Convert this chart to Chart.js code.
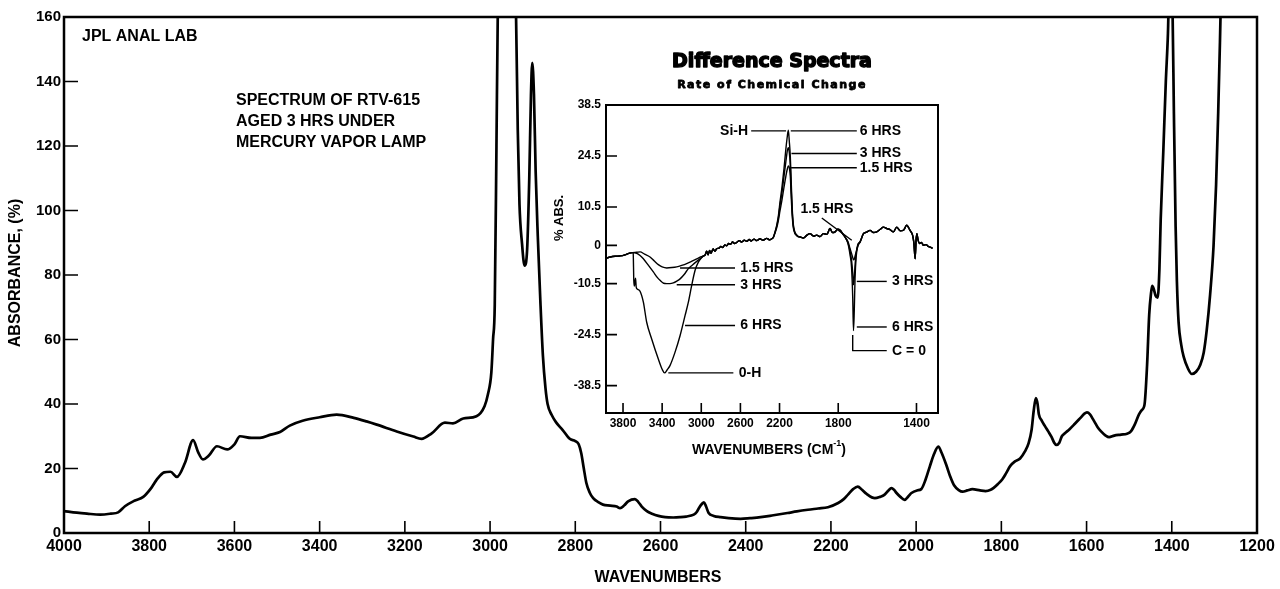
<!DOCTYPE html>
<html>
<head>
<meta charset="utf-8">
<script src="https://cdn.jsdelivr.net/npm/chart.js@4.4.1/dist/chart.umd.min.js"></script>
<style>
  html, body { margin: 0; padding: 0; background: #fff; }
  #wrap { position: relative; width: 1280px; height: 589px; }
  #main { position: absolute; left: 0; top: 0; }
  #inset { position: absolute; left: 540px; top: 40px; }
</style>
</head>
<body>
<div id="wrap">
  <canvas id="main" width="1280" height="589"></canvas>
  <canvas id="inset" width="420" height="420"></canvas>
</div>
<script>
// main spectrum (values above 160 run off the top)
const mainWave = [4000, 3970, 3946, 3915, 3890, 3873, 3857, 3835, 3814, 3795, 3782, 3765, 3750, 3735, 3716, 3697, 3685, 3674, 3660, 3641, 3617, 3600, 3587, 3560, 3540, 3515, 3493, 3470, 3440, 3400, 3360, 3320, 3290, 3266, 3219, 3180, 3161, 3137, 3106, 3087, 3063, 3032, 3013, 3005, 2997, 2993, 2989, 2985, 2982, 2975, 2960, 2945, 2939, 2935, 2931, 2925, 2919, 2913, 2908, 2904, 2901, 2897, 2893, 2888, 2882, 2876, 2870, 2865, 2855, 2845, 2830, 2813, 2800, 2792, 2786, 2780, 2774, 2766, 2758, 2745, 2735, 2718, 2703, 2695, 2685, 2676, 2660, 2652, 2644, 2632, 2620, 2605, 2589, 2570, 2554, 2540, 2522, 2515, 2510, 2503, 2498, 2493, 2487, 2475, 2459, 2440, 2412, 2390, 2365, 2335, 2302, 2280, 2254, 2230, 2207, 2183, 2170, 2160, 2148, 2137, 2127, 2117, 2097, 2085, 2074, 2065, 2058, 2052, 2046, 2037, 2027, 2018, 2011, 1998, 1988, 1978, 1968, 1958, 1948, 1940, 1929, 1920, 1911, 1900, 1891, 1880, 1868, 1850, 1837, 1825, 1818, 1808, 1798, 1789, 1779, 1768, 1756, 1745, 1736, 1729, 1724, 1719, 1715, 1712, 1705, 1698, 1690, 1682, 1676, 1671, 1664, 1658, 1651, 1640, 1628, 1615, 1605, 1599, 1592, 1585, 1581, 1574, 1566, 1556, 1547, 1535, 1519, 1505, 1496, 1487, 1477, 1470, 1464, 1458, 1453, 1449, 1446, 1442, 1438, 1433, 1429, 1426, 1420, 1414, 1409, 1405, 1401, 1398, 1395, 1391, 1388, 1384, 1378, 1372, 1362, 1353, 1343, 1333, 1325, 1318, 1310, 1302, 1296, 1291, 1287, 1284, 1280];
const mainAbs = [6.8, 6.3, 6.0, 5.7, 6.0, 6.4, 8.3, 10.0, 11.2, 14.0, 16.6, 18.8, 19.0, 17.4, 21.8, 28.8, 25.0, 22.8, 24.0, 26.9, 25.9, 27.5, 30.0, 29.5, 29.5, 30.5, 31.3, 33.3, 34.8, 35.9, 36.7, 35.7, 34.6, 33.6, 31.5, 29.9, 29.2, 30.9, 34.2, 34.0, 35.5, 36.2, 39.3, 43.0, 49.8, 60.0, 70.8, 120, 160, 190, 200, 185, 160, 125, 102, 89.7, 82.9, 88.0, 110, 136, 145.8, 136, 112, 92.0, 72.0, 55.0, 45.0, 40.0, 36.5, 34.3, 32.0, 29.2, 28.5, 27.5, 24.7, 20.0, 15.5, 12.5, 10.8, 9.5, 8.8, 8.5, 8.2, 7.7, 8.6, 9.8, 10.5, 9.6, 8.2, 6.8, 6.0, 5.3, 4.9, 4.8, 4.9, 5.1, 5.7, 6.5, 7.7, 9.0, 9.5, 8.2, 6.2, 5.3, 4.9, 4.6, 4.4, 4.6, 4.9, 5.5, 6.2, 6.7, 7.2, 7.6, 8.0, 9.3, 10.5, 11.9, 13.6, 14.4, 13.4, 12.2, 10.8, 11.2, 11.9, 13.2, 13.9, 13.4, 12.4, 11.2, 10.3, 11.4, 12.4, 13.2, 13.6, 16.5, 20.6, 24.5, 26.8, 24.8, 21.0, 17.5, 14.8, 13.3, 12.8, 13.2, 13.6, 13.2, 13.0, 13.4, 14.0, 15.2, 16.6, 18.5, 20.8, 22.2, 23.1, 25.2, 27.9, 32.0, 38.0, 41.8, 40.0, 36.8, 34.8, 33.2, 31.5, 29.7, 28.0, 27.3, 28.0, 30.0, 30.9, 32.2, 33.8, 35.6, 37.0, 37.4, 36.8, 35.3, 34.4, 32.8, 31.5, 30.3, 29.7, 30.2, 30.5, 30.8, 31.5, 33.6, 36.8, 38.2, 39.8, 52.0, 67.7, 74.0, 76.6, 75.5, 73.6, 73.0, 82.0, 97.3, 118, 140, 155, 175, 175, 160, 130, 95.0, 78.0, 65.3, 58.5, 54.6, 51.0, 49.3, 50.0, 52.2, 56.0, 62.9, 74.0, 89.0, 108, 130.6, 152, 170, 190];

// inset: difference spectra (1.5, 3 and 6 hrs), pieces shared where curves coincide
const insetXTicks = [3800, 3400, 3000, 2600, 2200, 1800, 1400];
const insetYTicks = [38.5, 24.5, 10.5, 0, -10.5, -24.5, -38.5];

const baseW = [3970, 3930, 3880, 3830, 3780, 3740, 3705];
const baseAbs = [-3.5, -3.2, -3.0, -2.9, -2.6, -2.2, -2.0];

const dip6W = [3696, 3690, 3684, 3678, 3672, 3665, 3655, 3626, 3592, 3558, 3507, 3439, 3400, 3375, 3350, 3320, 3268, 3217, 3166, 3132, 3098, 3064, 3030, 3000, 2979];
const dip6Abs = [-2.2, -9.5, -11.2, -10.0, -9.0, -11.5, -12.0, -12.6, -15.6, -21.1, -25.7, -31.2, -34.0, -35.0, -34.2, -33.0, -29.3, -24.8, -19.3, -15.6, -11.0, -6.9, -4.6, -3.5, -2.9];
const dip3W = [3660, 3626, 3592, 3540, 3490, 3450, 3422, 3385, 3353, 3320, 3286, 3250, 3217, 3175, 3132, 3090, 3046, 3000, 2979];
const dip3Abs = [-2.2, -2.8, -3.7, -5.5, -7.3, -8.8, -9.6, -10.4, -10.5, -10.5, -10.3, -9.8, -9.2, -8.0, -6.4, -5.4, -4.4, -3.4, -3.0];
const dip15W = [3660, 3626, 3580, 3524, 3480, 3439, 3400, 3353, 3300, 3251, 3200, 3149, 3100, 3046, 3000, 2979];
const dip15Abs = [-1.9, -1.8, -2.4, -3.2, -4.3, -5.3, -5.9, -6.2, -6.1, -5.9, -5.5, -5.0, -4.4, -3.7, -3.1, -2.9];

const midW = [2960, 2945, 2930, 2915, 2900, 2880, 2860, 2842, 2820, 2800, 2780, 2760, 2740, 2720, 2700, 2680, 2660, 2637, 2610, 2590, 2560, 2535, 2510, 2490, 2460, 2433, 2400, 2370, 2331, 2300, 2280, 2263];
const midAbs = [-2.6, -1.6, -2.6, -1.4, -2.2, -1.0, -1.6, -0.9, -0.8, -0.3, -0.6, 0.1, -0.1, 0.5, 0.3, 0.9, 0.5, 0.8, 1.3, 0.9, 1.4, 1.1, 1.6, 1.2, 1.7, 1.3, 1.8, 1.4, 1.9, 1.5, 1.8, 2.2];

const siHW = [2246, 2229, 2212, 2195, 2175, 2154, 2135, 2120, 2110, 2100, 2090, 2080, 2070, 2060, 2045, 2030, 2010, 1995];
const siH6Abs = [3.7, 5.5, 8.0, 11.9, 16.0, 21.1, 26.5, 30.0, 31.6, 28.5, 24.5, 17.0, 10.0, 6.0, 3.8, 3.0, 2.5, 2.3];
const siH3Abs = [3.6, 5.2, 7.5, 11.0, 14.5, 19.0, 23.0, 26.0, 26.8, 25.5, 22.0, 15.0, 9.0, 5.5, 3.6, 2.9, 2.4, 2.3];
const siH15Abs = [3.4, 4.8, 6.8, 9.5, 12.5, 16.0, 19.0, 21.0, 21.8, 21.3, 19.0, 13.0, 8.0, 5.0, 3.4, 2.8, 2.4, 2.3];

const postSiW = [1978, 1960, 1944, 1925, 1910, 1893, 1876, 1858, 1842, 1830, 1816, 1803, 1790, 1775, 1762];
const postSiAbs = [2.0, 2.8, 3.2, 2.5, 2.8, 2.4, 3.2, 3.0, 4.6, 3.5, 3.7, 4.4, 4.1, 3.0, 2.0];

const coW = [1750, 1740, 1732, 1726, 1722, 1718, 1714, 1708, 1700, 1688];
const co6Abs = [0.5, -2.5, -6.0, -14.0, -23.4, -18.0, -9.0, -3.0, 0.0, 0.9];
const co3Abs = [0.6, -1.5, -4.0, -7.5, -10.8, -9.0, -5.5, -2.0, 0.2, 1.0];
const co15Abs = [1.0, -0.8, -2.2, -3.3, -4.0, -3.8, -3.0, -1.8, -0.3, 1.0];

const tailW = [1671, 1655, 1637, 1620, 1603, 1585, 1569, 1552, 1535, 1518, 1501, 1484, 1467, 1450, 1433, 1420, 1413, 1407, 1402, 1398, 1392, 1385, 1375, 1364, 1350, 1340, 1330, 1318];
const tailAbs = [3.2, 3.6, 4.1, 3.5, 3.7, 4.4, 5.0, 4.6, 4.3, 3.7, 5.0, 4.0, 4.1, 5.5, 4.1, 2.8, 0.5, -3.7, 1.5, 3.2, 1.5, 0.5, 0.8, 0.0, 0.2, -0.3, -0.5, -0.8];

// inset labels: [text, text wavenumber, text value, align, leader line points]
const insetNotes = [
  ['Si-H', 2501, 31.4, 'right', [[2490, 31.4], [2133, 31.4]]],
  ['6 HRS', 1700, 31.4, 'left', [[2085, 31.4], [1705, 31.4]]],
  ['3 HRS', 1700, 25.2, 'left', [[2078, 25.2], [1705, 25.2]]],
  ['1.5 HRS', 1700, 21.3, 'left', [[2082, 21.3], [1705, 21.3]]],
  ['1.5 HRS', 2007, 9.9, 'left', [[1884, 7.5], [1731, 1.4]]],
  ['1.5 HRS', 2621, -6.2, 'left', [[3217, -6.2], [2655, -6.2]]],
  ['3 HRS', 2621, -10.8, 'left', [[3251, -10.8], [2655, -10.8]]],
  ['6 HRS', 2621, -22, 'left', [[3166, -22], [2655, -22]]],
  ['0-H', 2638, -35, 'left', [[3337, -35], [2672, -35]]],
  ['3 HRS', 1535, -9.9, 'left', [[1705, -9.9], [1552, -9.9]]],
  ['6 HRS', 1535, -22.4, 'left', [[1705, -22.4], [1552, -22.4]]],
  ['C = 0', 1535, -28.9, 'left', [[1726, -24.6], [1726, -28.9], [1552, -28.9]]]
];

// the inset axis is expanded 2x below 2000 cm-1
function toAxis(w) { return w >= 2000 ? 4000 - w : 2000 + (2000 - w) * 2; }
function fromAxis(t) { return t <= 2000 ? 4000 - t : 2000 - (t - 2000) / 2; }

function series(parts) {
  const pts = [];
  parts.forEach(([ws, vs]) => ws.forEach((w, i) => pts.push({ x: toAxis(w), y: vs[i] })));
  return pts;
}

const FONT = "'Liberation Sans', Arial, sans-serif";
Chart.defaults.font.family = FONT;
Chart.defaults.color = '#000';

function drawFrame(chart, lw, xLen, yLen) {
  const { ctx, chartArea: a, scales: { x, y } } = chart;
  ctx.save();
  ctx.strokeStyle = '#000';
  ctx.lineWidth = lw;
  ctx.strokeRect(a.left, a.top, a.right - a.left, a.bottom - a.top);
  ctx.lineWidth = 1.6;
  ctx.beginPath();
  x.ticks.forEach(t => {
    const p = x.getPixelForValue(t.value);
    if (p <= a.left + 2 || p >= a.right - 2) return;
    ctx.moveTo(p, a.bottom); ctx.lineTo(p, a.bottom - xLen);
  });
  y.ticks.forEach(t => {
    const p = y.getPixelForValue(t.value);
    if (p <= a.top + 2 || p >= a.bottom - 2) return;
    ctx.moveTo(a.left, p); ctx.lineTo(a.left + yLen, p);
  });
  ctx.stroke();
  ctx.restore();
}

function text(ctx, s, x, y, font, align, heavy) {
  ctx.font = font;
  ctx.textAlign = align || 'left';
  ctx.textBaseline = 'middle';
  if (heavy) { ctx.lineWidth = heavy; ctx.lineJoin = 'round'; ctx.strokeText(s, x, y); }
  ctx.fillText(s, x, y);
}

const mainDecor = {
  id: 'mainDecor',
  afterDraw(chart) {
    const ctx = chart.ctx;
    drawFrame(chart, 2.5, 12, 14);
    ctx.save();
    ctx.fillStyle = '#000';
    ctx.strokeStyle = '#000';
    const f = 'bold 16px ' + FONT;
    text(ctx, 'JPL ANAL LAB', 82, 37, f);
    text(ctx, 'SPECTRUM OF RTV-615', 236, 101, f);
    text(ctx, 'AGED 3 HRS UNDER', 236, 122, f);
    text(ctx, 'MERCURY VAPOR LAMP', 236, 143, f);
    text(ctx, 'WAVENUMBERS', 658, 578, f, 'center');
    ctx.translate(16, 273);
    ctx.rotate(-Math.PI / 2);
    text(ctx, 'ABSORBANCE, (%)', 0, 0, f, 'center');
    ctx.restore();
  }
};

new Chart(document.getElementById('main'), {
  type: 'line',
  data: {
    datasets: [{
      data: mainWave.map((w, i) => ({ x: w, y: mainAbs[i] })),
      borderColor: '#000',
      borderWidth: 2.7,
      pointRadius: 0,
      cubicInterpolationMode: 'monotone',
      fill: false
    }]
  },
  options: {
    responsive: false,
    devicePixelRatio: 1,
    animation: false,
    events: [],
    layout: { padding: { top: 17, right: 23, left: 0, bottom: 0 } },
    plugins: { legend: { display: false }, tooltip: { enabled: false } },
    scales: {
      x: {
        type: 'linear', reverse: true, min: 1200, max: 4000,
        grid: { display: false, drawTicks: false },
        border: { display: false },
        ticks: { stepSize: 200, autoSkip: false, maxRotation: 0, minRotation: 0, padding: 4,
                 font: { size: 16, weight: 'bold' }, color: '#000', callback: v => String(v) },
        afterFit(s) { s.height = 56; }
      },
      y: {
        min: 0, max: 160,
        grid: { display: false, drawTicks: false },
        border: { display: false },
        ticks: { stepSize: 20, padding: 3, font: { size: 15, weight: 'bold' }, color: '#000', callback: v => String(v) },
        afterFit(s) { s.width = 64; }
      }
    }
  },
  plugins: [mainDecor]
});

const insetDecor = {
  id: 'insetDecor',
  afterDraw(chart) {
    const { ctx, chartArea: a, scales: { x, y } } = chart;
    drawFrame(chart, 2, 10, 11);
    ctx.save();
    ctx.fillStyle = '#000';
    ctx.strokeStyle = '#000';
    const cx = (a.left + a.right) / 2;
    text(ctx, 'Difference Spectra', cx, 22, "bold 19px 'DejaVu Sans', sans-serif", 'center', 1.4);
    if ('letterSpacing' in ctx) ctx.letterSpacing = '1.5px';
    text(ctx, 'Rate of Chemical Change', cx, 45, "bold 11px 'DejaVu Sans', sans-serif", 'center', 0.8);
    if ('letterSpacing' in ctx) ctx.letterSpacing = '0px';

    // x title with superscript
    const tf = 'bold 14px ' + FONT, sf = 'bold 9px ' + FONT;
    ctx.font = tf;
    const w1 = ctx.measureText('WAVENUMBERS (CM').width;
    const w3 = ctx.measureText(')').width;
    ctx.font = sf;
    const w2 = ctx.measureText('-1').width;
    let tx = 229 - (w1 + w2 + w3) / 2;
    text(ctx, 'WAVENUMBERS (CM', tx, 410, tf);
    text(ctx, '-1', tx + w1, 404, sf);
    text(ctx, ')', tx + w1 + w2, 410, tf);

    ctx.save();
    ctx.translate(19, 178);
    ctx.rotate(-Math.PI / 2);
    text(ctx, '% ABS.', 0, 0, 'bold 13px ' + FONT, 'center');
    ctx.restore();

    ctx.lineWidth = 1.4;
    insetNotes.forEach(([s, tw, tv, align, line]) => {
      ctx.beginPath();
      line.forEach(([w, v], i) => {
        const px = x.getPixelForValue(toAxis(w)), py = y.getPixelForValue(v);
        if (i === 0) ctx.moveTo(px, py); else ctx.lineTo(px, py);
      });
      ctx.stroke();
      const gap = align === 'right' ? -2 : 2;
      text(ctx, s, x.getPixelForValue(toAxis(tw)) + gap, y.getPixelForValue(tv), 'bold 14px ' + FONT, align);
    });
    ctx.restore();
  }
};

const lineStyle = { borderColor: '#000', borderWidth: 1.4, pointRadius: 0, cubicInterpolationMode: 'monotone', fill: false };

new Chart(document.getElementById('inset'), {
  type: 'line',
  data: {
    datasets: [
      Object.assign({ label: '6 HRS', data: series([[baseW, baseAbs], [dip6W, dip6Abs], [midW, midAbs], [siHW, siH6Abs], [postSiW, postSiAbs], [coW, co6Abs], [tailW, tailAbs]]) }, lineStyle),
      Object.assign({ label: '3 HRS', data: series([[baseW, baseAbs], [dip3W, dip3Abs], [midW, midAbs], [siHW, siH3Abs], [postSiW, postSiAbs], [coW, co3Abs], [tailW, tailAbs]]) }, lineStyle),
      Object.assign({ label: '1.5 HRS', data: series([[baseW, baseAbs], [dip15W, dip15Abs], [midW, midAbs], [siHW, siH15Abs], [postSiW, postSiAbs], [coW, co15Abs], [tailW, tailAbs]]) }, lineStyle)
    ]
  },
  options: {
    responsive: false,
    devicePixelRatio: 1,
    animation: false,
    events: [],
    layout: { padding: { top: 65, right: 22, left: 0, bottom: 0 } },
    plugins: { legend: { display: false }, tooltip: { enabled: false } },
    scales: {
      x: {
        type: 'linear', min: toAxis(3974), max: toAxis(1290),
        grid: { display: false, drawTicks: false },
        border: { display: false },
        afterBuildTicks(s) { s.ticks = insetXTicks.map(w => ({ value: toAxis(w) })); },
        ticks: { autoSkip: false, maxRotation: 0, minRotation: 0, padding: 3,
                 font: { size: 12, weight: 'bold' }, color: '#000',
                 callback: v => String(Math.round(fromAxis(v))) },
        afterFit(s) { s.height = 47; }
      },
      y: {
        min: -46, max: 38.5,
        grid: { display: false, drawTicks: false },
        border: { display: false },
        afterBuildTicks(s) { s.ticks = insetYTicks.map(v => ({ value: v })); },
        ticks: { padding: 5, font: { size: 12, weight: 'bold' }, color: '#000', callback: v => String(v) },
        afterFit(s) { s.width = 66; }
      }
    }
  },
  plugins: [insetDecor]
});
</script>
</body>
</html>
